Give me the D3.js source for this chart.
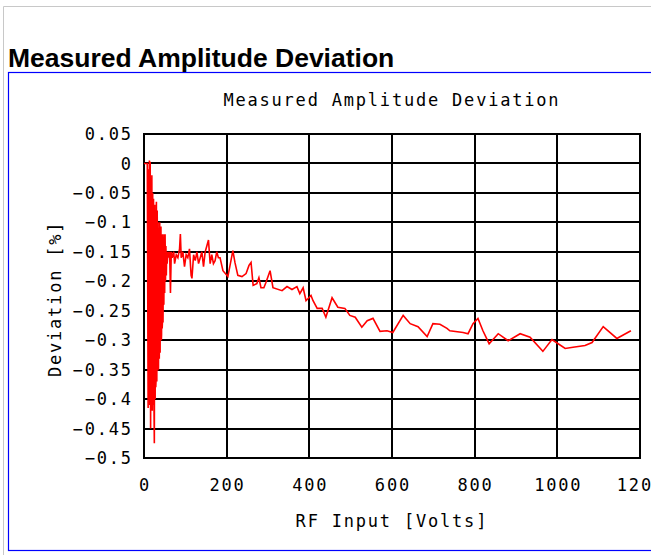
<!DOCTYPE html>
<html><head><meta charset="utf-8">
<script src="https://cdn.jsdelivr.net/npm/d3@7"></script>
<style>
html,body{margin:0;padding:0;background:#fff;overflow:hidden;}
svg{display:block;}
</style></head>
<body>
<svg id="c" width="651" height="555"></svg>
<script>
// ---- data ----
const pageTitle = "Measured Amplitude Deviation";
const chartTitle = "Measured Amplitude Deviation";
const xLabel = "RF Input [Volts]";
const yLabel = "Deviation [%]";
const xTicks = [0, 200, 400, 600, 800, 1000, 1200];
const xTickLabels = ["0", "200", "400", "600", "800", "1000", "1200"];
const yTicks = [0.05, 0, -0.05, -0.1, -0.15, -0.2, -0.25, -0.3, -0.35, -0.4, -0.45, -0.5];
const yTickLabels = ["0.05", "0", "\u22120.05", "\u22120.1", "\u22120.15", "\u22120.2", "\u22120.25", "\u22120.3", "\u22120.35", "\u22120.4", "\u22120.45", "\u22120.5"];
const volts = [
  0, 3, 6, 8, 10, 11, 12, 13, 14, 15, 16, 17, 18, 19, 20, 21, 22, 23, 24, 25, 26, 27, 28, 28.5, 29, 30,
  30.5, 31, 32, 32.5, 33, 34, 34.5, 35, 36, 36.5, 37, 38, 38.5, 39, 40, 41, 42, 42.5, 43, 44, 44.5, 45, 46, 47, 48, 49, 50, 51, 52, 53, 54,
  55, 56, 58, 60, 62, 64, 66, 68, 72, 74, 78, 82, 86, 88, 90, 94, 98, 102, 106, 110, 114, 116,
  120, 124, 128, 132, 136, 140, 144, 148, 152, 156, 160, 164, 168, 172, 176, 180,
  184, 191, 203, 215, 220, 227, 237, 247, 254, 259, 264, 273, 278, 283, 290, 295, 305, 312,
  334, 346, 358, 370, 377, 385, 392, 404, 409, 419, 431, 440, 455, 469, 486, 498, 511, 527,
  540, 554, 571, 588, 602, 627, 644, 663, 685, 699, 716, 733, 740, 772, 784, 796, 808, 820,
  835, 857, 881, 910, 934, 965, 987, 1002, 1019, 1038, 1067, 1084, 1111, 1144, 1178
];
const deviation = [
  0, 0, 0, 0, -0.415, -0.01, -0.40, 0.005, -0.41, 0.003, -0.45, -0.03, -0.40, -0.02, -0.42, -0.05,
  -0.41, -0.06, -0.40, -0.475, -0.07, -0.40, -0.09, -0.38, -0.37, -0.065, -0.36, -0.37, -0.08, -0.35,
  -0.35, -0.10, -0.34, -0.35, -0.11, -0.33, -0.33, -0.10, -0.32, -0.32, -0.12, -0.107, -0.30, -0.29,
  -0.13, -0.28, -0.27, -0.12, -0.27, -0.13, -0.24, -0.12, -0.22,
  -0.12, -0.20, -0.14, -0.19, -0.15, -0.17, -0.15, -0.16, -0.15, -0.22, -0.15, -0.16, -0.15, -0.17,
  -0.155, -0.16, -0.145, -0.12, -0.16, -0.15, -0.175, -0.155, -0.16, -0.145, -0.19, -0.195,
  -0.155, -0.165, -0.15, -0.17, -0.16, -0.15, -0.175, -0.15, -0.14, -0.13, -0.17, -0.155, -0.17,
  -0.165, -0.15, -0.16,
  -0.160, -0.182, -0.192, -0.148, -0.168, -0.190, -0.192, -0.187, -0.173, -0.168, -0.207, -0.204,
  -0.194, -0.211, -0.211, -0.202, -0.182, -0.211,
  -0.216, -0.209, -0.214, -0.209, -0.221, -0.211, -0.233, -0.224, -0.233, -0.246, -0.246, -0.261,
  -0.228, -0.244, -0.246, -0.258, -0.261, -0.278,
  -0.267, -0.263, -0.285, -0.284, -0.287, -0.258, -0.272, -0.277, -0.294, -0.272, -0.273, -0.280,
  -0.284, -0.287, -0.289, -0.272, -0.263, -0.284,
  -0.306, -0.289, -0.301, -0.289, -0.295, -0.319, -0.299, -0.306, -0.314, -0.312, -0.309, -0.304,
  -0.277, -0.297, -0.284
];

// ---- drawing ----
const svg = d3.select("#c");
const mono = "'DejaVu Sans Mono', monospace";
const monoSize = 17, ls = 1.8;

// page frames
svg.append("path").attr("d", "M3.5,555 V6.5 H651").attr("fill", "none").attr("stroke", "#c8c8c8").attr("stroke-width", 1);
svg.append("rect").attr("x", 8.5).attr("y", 72.5).attr("width", 660).attr("height", 478)
  .attr("fill", "none").attr("stroke", "#0000ff").attr("stroke-width", 1.2);

svg.append("text").attr("x", 8).attr("y", 67)
  .attr("font-family", "'Liberation Sans', Arial, sans-serif").attr("font-weight", "bold")
  .attr("font-size", 26.5).attr("fill", "#000").text(pageTitle);

const L = 144, R = 640, T = 134, B = 458;
const x = d3.scaleLinear().domain([0, 1200]).range([L, R]);
const y = d3.scaleLinear().domain([-0.5, 0.05]).range([B, T]);

// grid
const g = svg.append("g");
g.selectAll("line.h").data(yTicks).join("line")
  .attr("x1", L).attr("x2", R).attr("y1", d => Math.round(y(d))).attr("y2", d => Math.round(y(d)))
  .attr("stroke", "#000").attr("stroke-width", 2);
g.selectAll("line.v").data(xTicks).join("line")
  .attr("y1", T).attr("y2", B).attr("x1", d => Math.round(x(d))).attr("x2", d => Math.round(x(d)))
  .attr("stroke", "#000").attr("stroke-width", 2);
g.append("rect").attr("x", L).attr("y", T).attr("width", R - L).attr("height", B - T)
  .attr("fill", "none").attr("stroke", "#000").attr("stroke-width", 2);

// tick labels
svg.selectAll("text.yt").data(yTicks).join("text")
  .attr("x", 131 + ls).attr("y", d => y(d)).attr("dy", "0.36em")
  .attr("text-anchor", "end").attr("font-family", mono).attr("font-size", monoSize)
  .attr("letter-spacing", ls).attr("fill", "#000")
  .text((d, i) => yTickLabels[i]);
svg.selectAll("text.xt").data(xTicks).join("text")
  .attr("x", d => x(d) + ls / 2).attr("y", 491)
  .attr("text-anchor", "middle").attr("font-family", mono).attr("font-size", monoSize)
  .attr("letter-spacing", ls).attr("fill", "#000")
  .text((d, i) => xTickLabels[i]);

// titles
svg.append("text").attr("x", 391 + ls / 2).attr("y", 106).attr("text-anchor", "middle")
  .attr("font-family", mono).attr("font-size", monoSize).attr("letter-spacing", ls).text(chartTitle);
svg.append("text").attr("x", 391 + ls / 2).attr("y", 527).attr("text-anchor", "middle")
  .attr("font-family", mono).attr("font-size", monoSize).attr("letter-spacing", ls).text(xLabel);
svg.append("text").attr("transform", "translate(61," + (298 + ls / 2) + ") rotate(-90)")
  .attr("text-anchor", "middle").attr("font-family", mono).attr("font-size", monoSize)
  .attr("letter-spacing", ls).text(yLabel);

// data line
const pts = volts.map((v, i) => [v, deviation[i]]);
svg.append("path").datum(pts)
  .attr("d", d3.line().x(d => x(d[0])).y(d => y(d[1])))
  .attr("fill", "none").attr("stroke", "#ff0000").attr("stroke-width", 1.6)
  .attr("stroke-linejoin", "miter");
</script>
</body></html>
